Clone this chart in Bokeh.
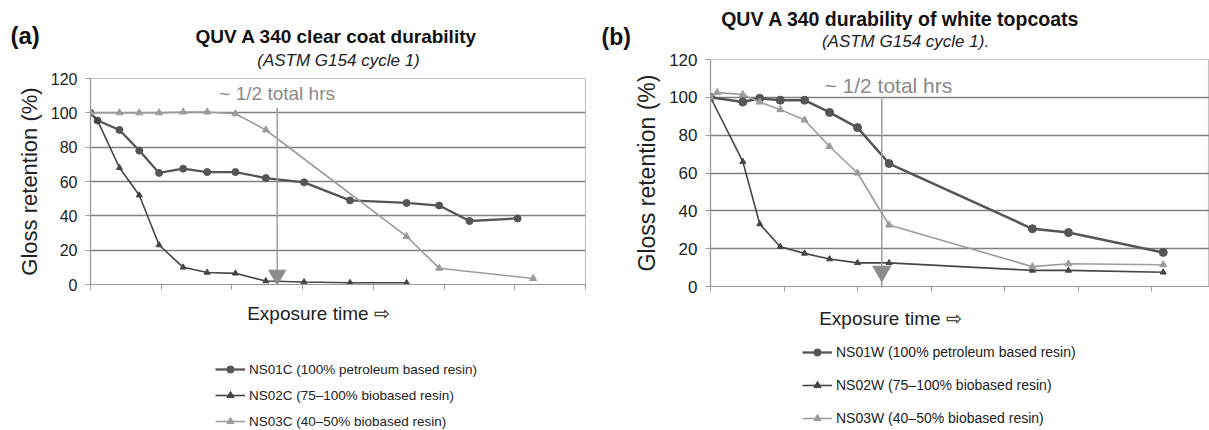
from bokeh.plotting import figure
from bokeh.models import Label, Legend, LegendItem, Range1d, FixedTicker
from bokeh.layouts import row, column
from bokeh.embed import file_html
from bokeh.resources import INLINE

# ---------------- data (panel a: clear coats) ----------------
time_a = [0, 0.10, 0.41, 0.69, 0.97, 1.31, 1.65, 2.05, 2.48, 3.02, 3.67, 4.47, 4.93, 5.36, 6.04, 6.26]
ns01c_t = time_a[0:15]
ns01c_v = [100, 95.5, 90, 78, 65, 67.5, 65.5, 65.5, 62, 59.5, 49, 47.5, 46, 37, 38.5]
ns02c_t = time_a[0:12]
ns02c_v = [100, 95.5, 68, 52, 23, 10, 7, 6.5, 2, 1.5, 1, 1]
ns03c_t = [0, 0.41, 0.69, 0.97, 1.31, 1.65, 2.05, 2.48, 4.47, 4.93, 6.26]
ns03c_v = [100, 100, 100, 100, 100.5, 100.5, 99.5, 90, 28, 9.5, 3.5]
half_a = 2.64

# ---------------- data (panel b: white topcoats) ----------------
time_b = [0, 0.09, 0.44, 0.67, 0.95, 1.28, 1.62, 2.0, 2.43, 4.38, 4.87, 6.16]
ns01w_t = [time_b[0]] + time_b[2:]
ns01w_v = [100, 97.5, 99.5, 98.5, 98.5, 92, 84, 65, 30.5, 28.5, 18]
ns02w_t = [time_b[0]] + time_b[2:]
ns02w_v = [100, 66, 33, 21, 17.5, 14.5, 12.5, 12.5, 8.5, 8.5, 7.5]
ns03w_t = time_b
ns03w_v = [100, 102.5, 101.5, 97.5, 93.5, 88, 74, 60, 32.5, 10.5, 12, 11.5]
half_b = 2.33

y_ticks = [0, 20, 40, 60, 80, 100, 120]
grid_ticks = [20, 40, 60, 80, 100]

labels_a = ["NS01C (100% petroleum based resin)",
            "NS02C (75\u2013100% biobased resin)",
            "NS03C (40\u201350% biobased resin)"]
labels_b = ["NS01W (100% petroleum based resin)",
            "NS02W (75\u2013100% biobased resin)",
            "NS03W (40\u201350% biobased resin)"]

FONT = "Liberation Sans"
NAN = float("nan")

# series styles: (color, line width, marker, marker size)
style_1 = ("#555555", 2.3, "circle", 7)
style_2 = ("#454545", 1.6, "triangle", 6)
style_3 = ("#9c9c9c", 1.6, "triangle", 7)


def blank(width, height, x0, x1, y_top, y_bottom):
    """A figure whose frame fills the canvas; data coords = page pixels."""
    f = figure(width=width, height=height, x_range=Range1d(x0, x1),
               y_range=Range1d(y_bottom, y_top), output_backend="svg",
               toolbar_location=None, x_axis_type=None, y_axis_type=None,
               min_border=0, min_border_left=0, min_border_right=0,
               min_border_top=0, min_border_bottom=0, frame_align=False)
    f.outline_line_color = None
    f.xgrid.grid_line_color = None
    f.ygrid.grid_line_color = None
    f.background_fill_color = "white"
    f.border_fill_color = "white"
    return f


def add_text(p, x, y, text, size, style="normal", color="#222222", align="center"):
    p.add_layout(Label(x=x, y=y, text=text, text_font=FONT, text_font_size=size,
                       text_font_style=style, text_color=color, text_align=align,
                       text_baseline="middle"))


def make_chart(width, height, xmax, b_left, b_right, b_top, b_bottom, tick_size, label_size):
    p = figure(width=width, height=height, x_range=Range1d(0, xmax), y_range=Range1d(0, 120),
               output_backend="svg", toolbar_location=None, frame_align=False,
               min_border_left=b_left, min_border_right=b_right,
               min_border_top=b_top, min_border_bottom=b_bottom)
    p.background_fill_color = "white"
    p.border_fill_color = "white"
    p.outline_line_color = "#c4c4c4"
    p.outline_line_width = 1.2
    p.xgrid.grid_line_color = None
    p.ygrid.ticker = FixedTicker(ticks=grid_ticks)
    p.ygrid.grid_line_color = "#808080"
    p.ygrid.grid_line_width = 1.7
    p.yaxis.ticker = FixedTicker(ticks=y_ticks)
    p.xaxis.ticker = FixedTicker(ticks=list(range(0, 8)))
    p.xaxis.major_label_overrides = {i: "" for i in range(0, 8)}
    for ax in (p.xaxis[0], p.yaxis[0]):
        ax.axis_line_color = "#9a9a9a"
        ax.axis_line_width = 1.2
        ax.major_tick_line_color = "#9a9a9a"
        ax.major_tick_out = 5
        ax.major_tick_in = 0
        ax.minor_tick_line_color = None
    p.yaxis.major_label_standoff = 8
    p.yaxis.major_label_text_font = FONT
    p.yaxis.major_label_text_font_size = tick_size
    p.yaxis.major_label_text_color = "#222222"
    p.yaxis.axis_label = "Gloss retention (%)"
    p.yaxis.axis_label_text_font = FONT
    p.yaxis.axis_label_text_font_size = label_size
    p.yaxis.axis_label_text_font_style = "normal"
    p.yaxis.axis_label_text_color = "#222222"
    p.yaxis.axis_label_standoff = 6
    return p


def add_series(p, t, v, st):
    color, width, marker, size = st
    p.line(t, v, line_color=color, line_width=width)
    p.scatter(t, v, marker=marker, size=size, fill_color=color, line_color=color)


def legend_keys(f, st):
    # hidden key renderers (one NaN point) so the legend can draw line + marker
    color, width, marker, size = st
    r = f.line(x=[NAN], y=[NAN], line_color=color, line_width=width)
    m = f.scatter(x=[NAN], y=[NAN], marker=marker, size=size, fill_color=color, line_color=color)
    return [r, m]


def make_legend(f, labels, loc, spacing, font_size):
    items = [LegendItem(label=lab, renderers=legend_keys(f, st))
             for lab, st in zip(labels, (style_1, style_2, style_3))]
    leg = Legend(items=items, location=loc)
    leg.border_line_color = None
    leg.background_fill_alpha = 0
    leg.label_text_font = FONT
    leg.label_text_font_size = font_size
    leg.label_text_color = "#222222"
    leg.glyph_width = 30
    leg.glyph_height = 18
    leg.label_height = 18
    leg.spacing = spacing
    leg.padding = 0
    leg.margin = 0
    leg.label_standoff = 4
    f.add_layout(leg)


# ================= panel (a) =================
head_a = blank(600, 70, 0, 600, 0, 70)
add_text(head_a, 10, 35, "(a)", "24px", "bold", "#111111", "left")
add_text(head_a, 336, 36, "QUV A 340 clear coat durability", "19px", "bold", "#111111")
add_text(head_a, 338, 60, "(ASTM G154 cycle 1)", "17px", "italic", "#222222")

# chart frame: page x 90..585, y 78..284
chart_a = make_chart(600, 230, 7, 90, 15, 8, 16, "16px", "22px")
add_series(chart_a, ns01c_t, ns01c_v, style_1)
add_series(chart_a, ns02c_t, ns02c_v, style_2)
add_series(chart_a, ns03c_t, ns03c_v, style_3)
chart_a.segment(x0=[half_a], y0=[0], x1=[half_a], y1=[103], line_color="#a0a0a0", line_width=1.5)
chart_a.scatter(x=[half_a], y=[5.5], marker="inverted_triangle", size=17,
                fill_color="#8c8c8c", line_color="#8c8c8c")
add_text(chart_a, half_a, 111.5, "~ 1/2 total hrs", "19px", "normal", "#8a8a8a")

foot_a = blank(600, 130, 0, 600, 300, 430)
add_text(foot_a, 318, 313, "Exposure time \u21e8", "19px", "normal", "#222222")
make_legend(foot_a, labels_a, (215, 0), 8, "13.5px")

# ================= panel (b) =================
head_b = blank(609, 51, 600, 1209, 0, 51)
add_text(head_b, 601, 36, "(b)", "23px", "bold", "#111111", "left")
add_text(head_b, 900, 18, "QUV A 340 durability of white topcoats", "19.5px", "bold", "#111111")
add_text(head_b, 905, 41, "(ASTM G154 cycle 1).", "17px", "italic", "#222222")

# chart frame: page x 710..1209, y 59..286
xmax_b = (1209 - 710) / 73.5
chart_b = make_chart(609, 251, xmax_b, 110, 0, 8, 16, "17px", "23px")
add_series(chart_b, ns01w_t, ns01w_v, (style_1[0], 2.5, "circle", 8))
add_series(chart_b, ns02w_t, ns02w_v, style_2)
add_series(chart_b, ns03w_t, ns03w_v, style_3)
chart_b.segment(x0=[half_b], y0=[0], x1=[half_b], y1=[100], line_color="#a0a0a0", line_width=1.5)
chart_b.scatter(x=[half_b], y=[8], marker="inverted_triangle", size=18,
                fill_color="#8c8c8c", line_color="#8c8c8c")
add_text(chart_b, 2.42, 106.5, "~ 1/2 total hrs", "21px", "normal", "#8a8a8a")

foot_b = blank(609, 128, 600, 1209, 302, 430)
add_text(foot_b, 890, 318, "Exposure time \u21e8", "19px", "normal", "#222222")
make_legend(foot_b, labels_b, (202, 3), 15, "14px")

layout = row(column(head_a, chart_a, foot_a), column(head_b, chart_b, foot_b))
open("out.html", "w").write(file_html(layout, INLINE))
